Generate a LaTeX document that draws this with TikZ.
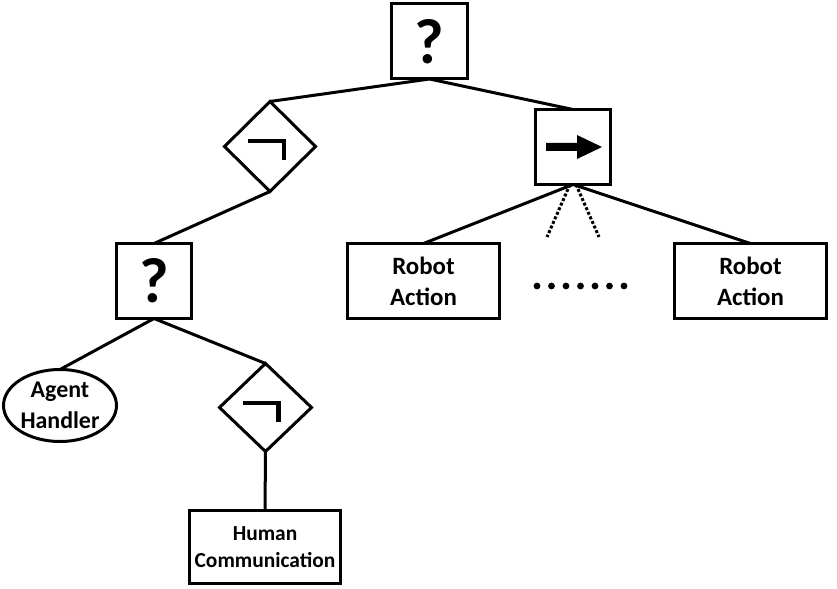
\documentclass[tikz,border=0pt]{standalone}
\usepackage{fontspec}
\setmainfont{Carlito}
\usetikzlibrary{shapes.geometric}
\begin{document}
\begin{tikzpicture}[x=1bp,y=-1bp,
  every node/.style={inner sep=0pt,outer sep=0pt,font=\bfseries},
  ctrl/.style={draw,line width=3bp,rectangle,minimum width=75bp,minimum height=75bp},
  qmark/.style={ctrl,font=\fontsize{64}{64}\selectfont\bfseries},
  negbox/.style={draw,line width=3bp,diamond,aspect=1,minimum width=91bp,minimum height=90bp},
  leaf/.style={draw,line width=3bp,rectangle,minimum width=152bp,minimum height=75bp,align=center},
  ralabel/.style={font=\fontsize{25}{31}\selectfont\bfseries},
  edge/.style={line width=3bp},
  negstroke/.style={line width=4.8bp},
]
\useasboundingbox (0,0) rectangle (837,589);

\node[qmark,minimum width=76bp] (top) at (429.5,41.5) {?};
\node[negbox] (neg1) at (270,146.5) {};
\node[ctrl] (seq) at (573,147) {};
\node[qmark] (sel2) at (154,281) {?};
\node[leaf,ralabel] (ra1) at (423.5,281) {Robot\\Action};
\node[leaf,ralabel] (ra2) at (750.5,281) {Robot\\Action};
\node[draw,line width=3bp,ellipse,minimum width=113bp,minimum height=72bp,align=center,font=\fontsize{24}{31}\selectfont\bfseries] (ah) at (60,405.5) {Agent\\Handler};
\node[negbox,minimum width=92bp,minimum height=88bp] (neg2) at (265.5,407.5) {};
\node[leaf,minimum width=151bp,minimum height=73bp,font=\fontsize{21.5}{27}\selectfont\bfseries] (hc) at (265,547) {Human\\Communication};

% negation symbols
\draw[negstroke] ([shift={(-22,-5.5)}]neg1.center) -| ([shift={(14,14)}]neg1.center);
\draw[negstroke] ([shift={(-22.5,-4.5)}]neg2.center) -| ([shift={(13,14)}]neg2.center);
% sequence arrow
\fill ([shift={(-27,-4)}]seq.center) -- ([shift={(4,-4)}]seq.center) -- ([shift={(4,-12)}]seq.center)
  -- ([shift={(29,0)}]seq.center) -- ([shift={(4,12)}]seq.center) -- ([shift={(4,4)}]seq.center)
  -- ([shift={(-27,4)}]seq.center) -- cycle;

% connectors
\draw[edge] (top.south) -- (neg1.north);
\draw[edge] (top.south) -- (seq.north);
\draw[edge] (neg1.south) -- (sel2.north);
\draw[edge] (seq.south) -- (ra1.north);
\draw[edge] (seq.south) -- (ra2.north);
\draw[edge] (sel2.south) -- (ah.north);
\draw[edge] (sel2.south) -- (neg2.north);
\draw[edge] (neg2.south) -- (hc.north);

\coordinate (d1) at (547,237);
\coordinate (d2) at (599,237);
\draw[line width=3bp,dotted] ([xshift=-3bp]seq.south) -- (d1);
\draw[line width=3bp,dotted] ([xshift=3bp]seq.south) -- (d2);

% ellipsis
\foreach \i in {0,...,6} \fill (537+\i*14.5,286) circle (3.4);
\end{tikzpicture}
\end{document}
